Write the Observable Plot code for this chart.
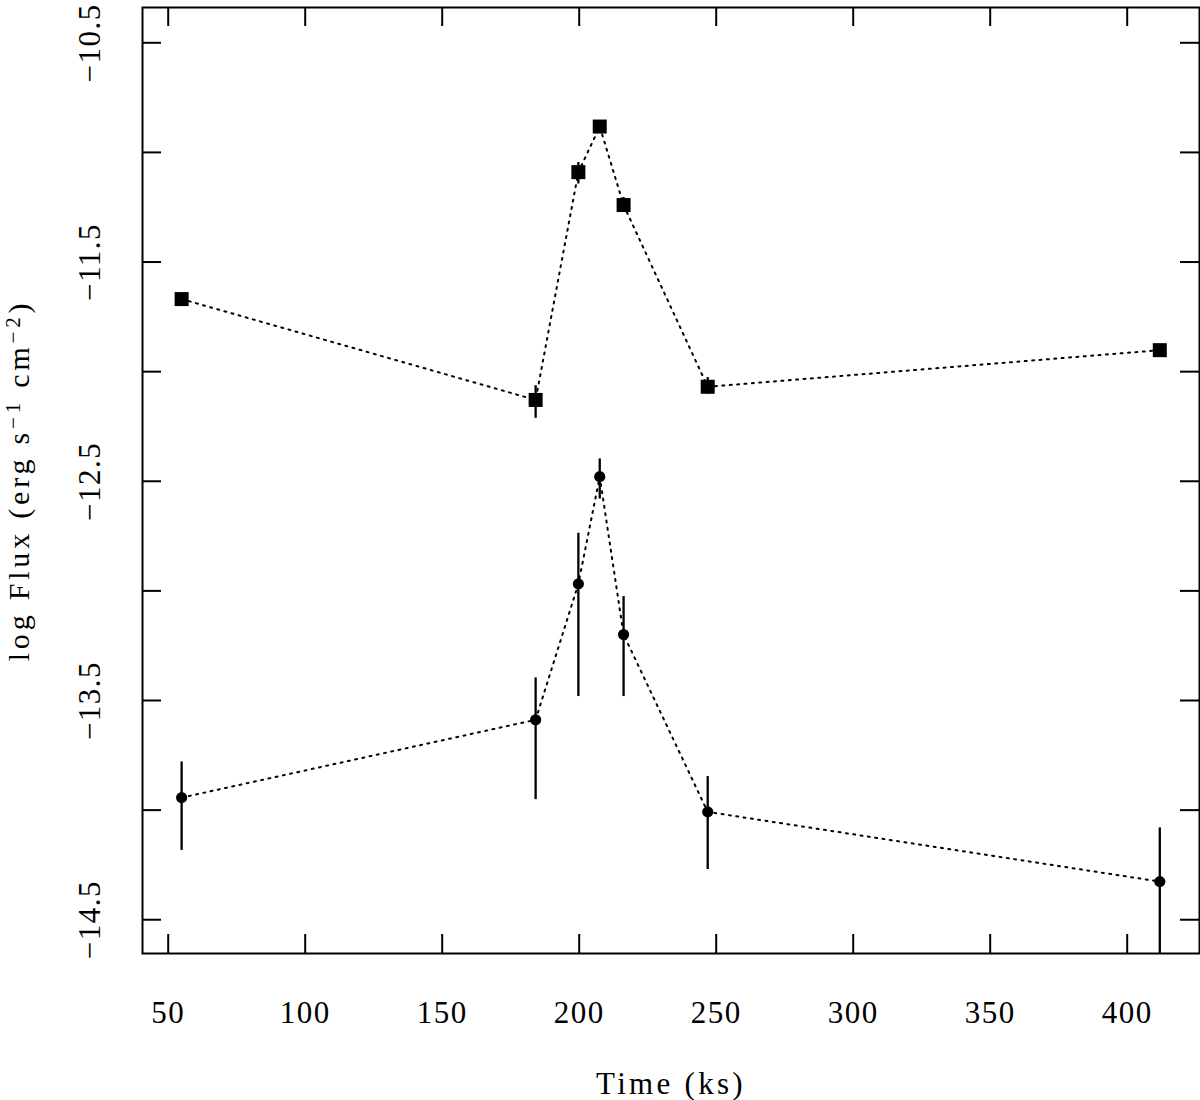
<!DOCTYPE html>
<html><head><meta charset="utf-8">
<script src="https://cdn.jsdelivr.net/npm/d3@7"></script>
<script src="https://cdn.jsdelivr.net/npm/@observablehq/plot@0.6"></script>
<style>body{margin:0;background:#fff}svg text{letter-spacing:1.5px}</style>
</head><body><div id="chart"></div>
<script>
// Observation times (ks)
const times = [54.9, 184.1, 199.7, 207.5, 216.2, 246.9, 411.9];
// Upper series (squares): log flux and error range
const hardFlux = [-11.669, -12.129, -11.090, -10.882, -11.240, -12.069, -11.902];
const hardLo   = [-11.690, -12.213, -11.144, -10.900, -11.274, -12.103, -11.930];
const hardHi   = [-11.650, -12.064, -11.046, -10.865, -11.206, -12.027, -11.880];
// Lower series (circles): log flux and error range
const softFlux = [-13.943, -13.588, -12.968, -12.479, -13.199, -14.008, -14.326];
const softLo   = [-14.184, -13.952, -13.482, -12.581, -13.482, -14.271, -14.700];
const softHi   = [-13.780, -13.397, -12.737, -12.398, -13.026, -13.847, -14.081];

const xTicks = [50, 100, 150, 200, 250, 300, 350, 400];
const xTickLabels = ["50", "100", "150", "200", "250", "300", "350", "400"];
const yTicks = [-10.5, -11, -11.5, -12, -12.5, -13, -13.5, -14, -14.5];
const yLabelValues = [-10.5, -11.5, -12.5, -13.5, -14.5];
const yTickLabels = ["\u221210.5", "\u221211.5", "\u221212.5", "\u221213.5", "\u221214.5"];
const xTitle = "Time (ks)";
// y title pieces: normal, superscript, normal, superscript, normal
const yTitleParts = ["log Flux (erg s", "\u22121", " cm", "\u22122", ")"];
const yTitle = yTitleParts.join("");

const hard = times.map((t, i) => ({t, f: hardFlux[i], lo: hardLo[i], hi: hardHi[i]}));
const soft = times.map((t, i) => ({t, f: softFlux[i], lo: softLo[i], hi: softHi[i]}));
const xLab = xTicks.map((v, i) => ({v, s: xTickLabels[i]}));
const yLab = yLabelValues.map((v, i) => ({v, s: yTickLabels[i]}));

const W = 1200, H = 1100, mL = 142, mR = 1, mT = 7, mB = 147;
const innerW = W - mL - mR, innerH = H - mT - mB, tick = 19;
const font = "Liberation Serif, Times New Roman, serif";
const dotted = {stroke: "black", strokeWidth: 2, strokeDasharray: "2 5.4"};

const chart = Plot.plot({
  width: W, height: H,
  marginLeft: mL, marginRight: mR, marginTop: mT, marginBottom: mB,
  style: {fontFamily: font, background: "white", color: "black"},
  x: {domain: [40.62, 426.39], axis: null},
  y: {domain: [-14.654, -10.339], axis: null},
  marks: [
    Plot.line(hard, {x: "t", y: "f", ...dotted}),
    Plot.line(soft, {x: "t", y: "f", ...dotted}),
    Plot.ruleX(hard, {x: "t", y1: "lo", y2: "hi", stroke: "black", strokeWidth: 2.3}),
    Plot.ruleX(soft, {x: "t", y1: "lo", y2: "hi", stroke: "black", strokeWidth: 2.3, clip: true}),
    Plot.dot(hard, {x: "t", y: "f", symbol: "square", r: 7.9, fill: "black"}),
    Plot.dot(soft, {x: "t", y: "f", symbol: "circle", r: 5.6, fill: "black"}),
    Plot.tickX(xTicks, {x: d => d, insetTop: innerH - tick, stroke: "black", strokeWidth: 2}),
    Plot.tickX(xTicks, {x: d => d, insetBottom: innerH - tick, stroke: "black", strokeWidth: 2}),
    Plot.tickY(yTicks, {y: d => d, insetRight: innerW - tick, stroke: "black", strokeWidth: 2}),
    Plot.tickY(yTicks, {y: d => d, insetLeft: innerW - tick, stroke: "black", strokeWidth: 2}),
    Plot.frame({stroke: "black", strokeWidth: 2}),
    Plot.text(xLab, {x: "v", text: "s", frameAnchor: "bottom", lineAnchor: "top", dy: 47, fontSize: 31, fill: "black"}),
    Plot.text(yLab, {y: "v", text: "s", frameAnchor: "left", dx: -43, rotate: -90, textAnchor: "middle", lineAnchor: "bottom", fontSize: 31, fill: "black"}),
    Plot.text([xTitle], {text: d => d, frameAnchor: "bottom", lineAnchor: "bottom", dy: 140, fontSize: 31, fill: "black"}),
    Plot.text([yTitle], {text: d => d, frameAnchor: "left", dx: -114, rotate: -90, textAnchor: "middle", lineAnchor: "bottom", fontSize: 30, fill: "black"})
  ]
});

// Typeset titles: wider letter spacing, true superscripts in the y title
chart.querySelectorAll("text").forEach(t => {
  if (t.textContent === xTitle) t.style.letterSpacing = "3.3px";
  if (t.textContent === yTitle) {
    t.style.letterSpacing = "3.8px";
    while (t.firstChild) t.removeChild(t.firstChild);
    const ns = "http://www.w3.org/2000/svg";
    yTitleParts.forEach((p, i) => {
      const s = document.createElementNS(ns, "tspan");
      s.textContent = p;
      if (i % 2 === 1) { s.setAttribute("dy", "-9"); s.setAttribute("font-size", "21"); }
      else if (i > 0) { s.setAttribute("dy", "9"); }
      t.appendChild(s);
    });
  }
});
document.getElementById("chart").appendChild(chart);
</script>
</body></html>
